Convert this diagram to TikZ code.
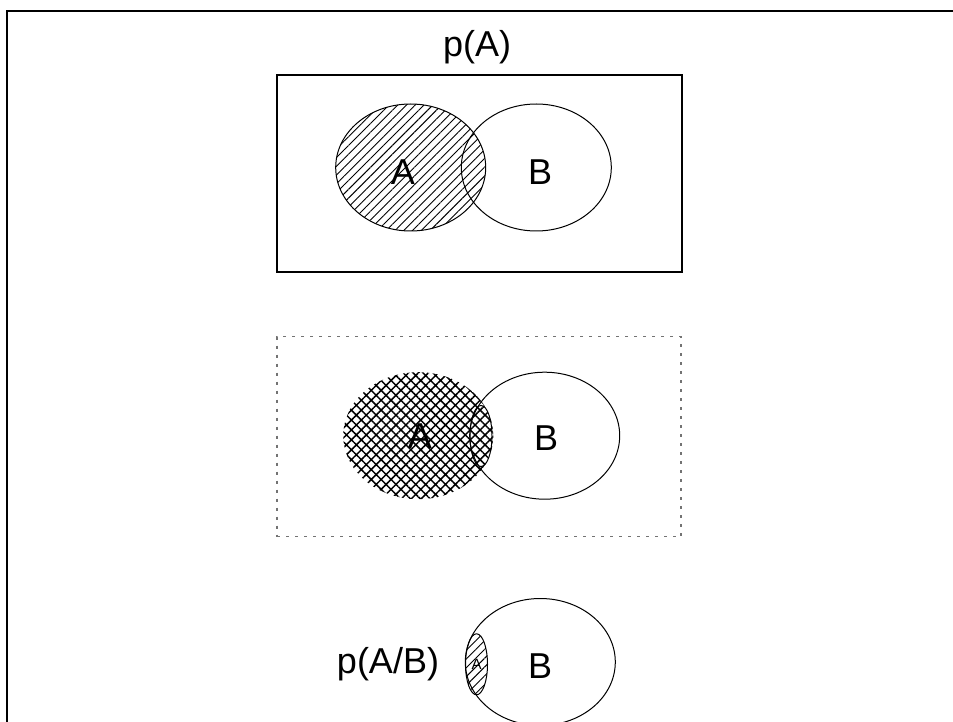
\documentclass[tikz,border=0pt]{standalone}
\usepackage{fontspec}
\setmainfont{Liberation Sans}
\usetikzlibrary{shapes.geometric, patterns.meta}
\tikzset{
  every picture/.style={line width=1pt},
  set/.style={ellipse, draw, inner sep=0pt, minimum width=150pt, minimum height=127pt},
  lens/.style={ellipse, draw, inner sep=0pt, minimum width=22pt, minimum height=61pt},
  hatched/.style={pattern={Lines[angle=45, distance=6.2pt, line width=0.9pt]}},
  crossed/.style={pattern={Hatch[angle=45, distance=7pt, line width=1.5pt]}},
  frame/.style={draw, line width=2pt},
  dotframe/.style={draw=black!55, line width=1.3pt, dash pattern=on 3pt off 6pt},
  label/.style={font=\fontsize{36}{36}\selectfont},
}
\begin{document}
\begin{tikzpicture}[x=1pt, y=-1pt]
  \useasboundingbox (0,0) rectangle (953,722);
  \clip (0,0) rectangle (953,722);
  % outer frame
  \draw[line width=2.6pt] (7,722) -- (7,11) -- (953,11);

  % p(A)
  \node[label] (ta) at (477,47) {p(A)};
  \node[frame, minimum width=405pt, minimum height=197pt] (r1) at (479.5,173.5) {};
  \node[set, hatched] (a1) at (410.7,167.5) {};
  \node[set] (b1) at (536.3,167.5) {};
  \node[label] (la1) at (403,172) {A};
  \node[label] (lb1) at (540,172) {B};

  % A and B
  \node[dotframe, minimum width=404pt, minimum height=200pt] (r2) at (479,436.7) {};
  \node[set, draw=none, crossed] (a2) at (418.3,435.7) {};
  \node[set] (b2) at (544.7,435.7) {};
  \node[lens] (l2) at (481,436) {};
  \node[label] (la2) at (420,436) {A};
  \node[label] (lb2) at (546,438) {B};

  % p(A/B)
  \node[label] (tab) at (388,664) {p(A/B)};
  \node[set] (b3) at (540.3,662) {};
  \node[lens, hatched, font=\fontsize{15}{15}\selectfont] (a3) at (476.5,664.3) {A};
  \node[label] (lb3) at (540,666) {B};
\end{tikzpicture}
\end{document}
